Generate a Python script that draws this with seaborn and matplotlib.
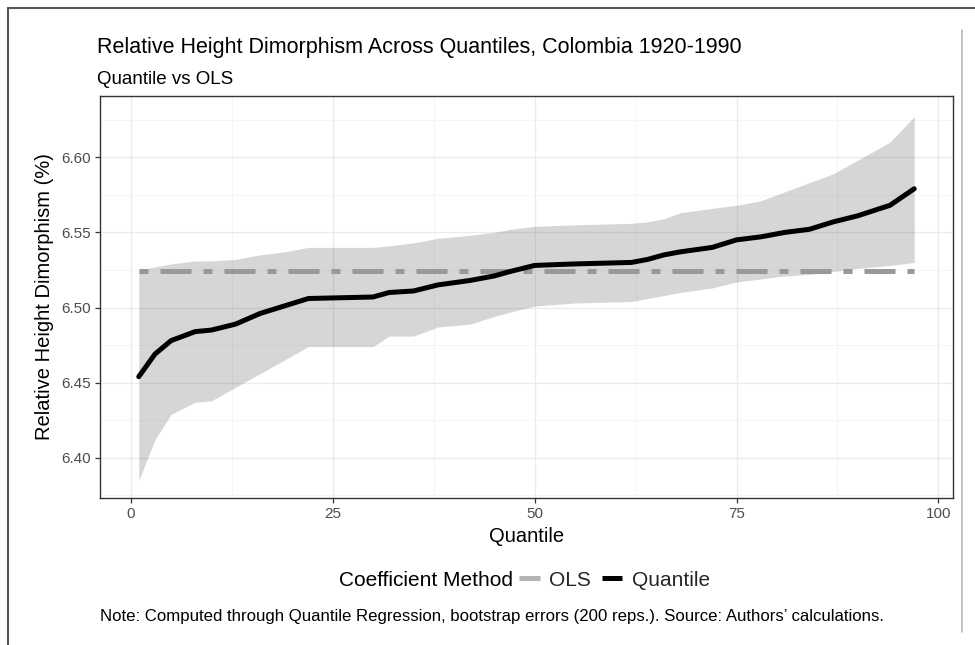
import matplotlib
matplotlib.use("Agg")
import matplotlib.pyplot as plt
from matplotlib.lines import Line2D
from matplotlib.ticker import AutoMinorLocator
import pandas as pd
import seaborn as sns

# Quantile regression estimates with bootstrap bands
quantiles = [1, 3, 5, 8, 10, 13, 16, 19, 22, 30, 32, 35, 38, 42, 45, 47,
             50, 55, 62, 64, 66, 68, 72, 75, 78, 81, 84, 87, 90, 94, 97]
coef_quantile = [6.454, 6.469, 6.478, 6.484, 6.485, 6.489, 6.496, 6.501, 6.506,
                 6.507, 6.510, 6.511, 6.515, 6.518, 6.521, 6.524, 6.528, 6.529,
                 6.530, 6.532, 6.535, 6.537, 6.540, 6.545, 6.547, 6.550, 6.552,
                 6.557, 6.561, 6.568, 6.579]
ci_upper = [6.525, 6.527, 6.529, 6.531, 6.531, 6.532, 6.535, 6.537, 6.540,
            6.540, 6.541, 6.543, 6.546, 6.548, 6.550, 6.552, 6.554, 6.555,
            6.556, 6.557, 6.559, 6.563, 6.566, 6.568, 6.571, 6.577, 6.583,
            6.589, 6.598, 6.610, 6.627]
ci_lower = [6.385, 6.412, 6.429, 6.437, 6.438, 6.447, 6.456, 6.465, 6.474,
            6.474, 6.481, 6.481, 6.487, 6.489, 6.494, 6.497, 6.501, 6.503,
            6.504, 6.506, 6.508, 6.510, 6.513, 6.517, 6.519, 6.521, 6.522,
            6.524, 6.526, 6.528, 6.530]
coef_ols = 6.524

x_ticks = [0, 25, 50, 75, 100]
y_ticks = [6.40, 6.45, 6.50, 6.55, 6.60]

df = pd.DataFrame({"quantile": quantiles, "coef": coef_quantile,
                   "lower": ci_lower, "upper": ci_upper})
df["ols"] = coef_ols

sns.set_theme(style="white")
plt.rcParams["font.family"] = ["Liberation Sans", "DejaVu Sans"]

fig = plt.figure(figsize=(9.75, 6.45), dpi=100)
ax = fig.add_axes([100 / 975, (645 - 498) / 645, 853 / 975, 402 / 645])

# bootstrap band
ax.fill_between(df["quantile"], df["lower"], df["upper"],
                color="#333333", alpha=0.2, linewidth=0, zorder=2)

# OLS coefficient (two-dash)
sns.lineplot(data=df, x="quantile", y="ols", ax=ax, color="#999999",
             linewidth=3.6, zorder=3)
ax.lines[-1].set_dashes((1.8, 2.4, 6.2, 2.4))
ax.lines[-1].set_dash_capstyle("butt")

# quantile coefficients
sns.lineplot(data=df, x="quantile", y="coef", ax=ax, color="black",
             linewidth=3.6, zorder=4)

ax.set_xlim(-3.8, 101.8)
ax.set_ylim(6.3733, 6.6407)
ax.set_xticks(x_ticks)
ax.set_xticklabels([str(t) for t in x_ticks])
ax.set_yticks(y_ticks)
ax.set_yticklabels([f"{t:.2f}" for t in y_ticks])
ax.xaxis.set_minor_locator(AutoMinorLocator(2))
ax.yaxis.set_minor_locator(AutoMinorLocator(2))

ax.grid(which="major", color="#ebebeb", linewidth=1.0, zorder=0)
ax.grid(which="minor", color="#f4f4f4", linewidth=0.6, zorder=0)
ax.set_axisbelow(True)
for s in ax.spines.values():
    s.set_color("#333333")
    s.set_linewidth(1.0)
ax.tick_params(which="major", length=3.5, width=0.9, color="#333333",
               labelcolor="#4d4d4d", labelsize=11, pad=3)
ax.tick_params(which="minor", length=0)
ax.tick_params(axis="x", bottom=True)
ax.tick_params(axis="y", left=True)

ax.set_xlabel("Quantile", fontsize=14.5, color="black")
ax.xaxis.label.set_va("center")
ax.xaxis.set_label_coords(0.5, (498 - 537) / 402)
ax.set_ylabel("Relative Height Dimorphism (%)", fontsize=14.5, color="black")
ax.yaxis.label.set_va("center")
ax.yaxis.set_label_coords((45 - 100) / 853, 0.5)

fig.text(97 / 975, 1 - 47 / 645,
         "Relative Height Dimorphism Across Quantiles, Colombia 1920-1990",
         fontsize=15.5, va="center", ha="left", color="black")
fig.text(97 / 975, 1 - 79 / 645, "Quantile vs OLS",
         fontsize=13.5, va="center", ha="left", color="black")

# legend: title on the left, keys to its right
fig.text(513 / 975, 1 - 580 / 645, "Coefficient Method", fontsize=15,
         va="center", ha="right", color="black")
handles = [Line2D([], [], color="#b3b3b3", linewidth=3.6, solid_capstyle="butt"),
           Line2D([], [], color="black", linewidth=3.6, solid_capstyle="butt")]
fig.legend(handles, ["OLS", "Quantile"], loc="center left",
           bbox_to_anchor=(519 / 975, 1 - 580 / 645), ncol=2, frameon=False,
           fontsize=15, handlelength=1.0, handletextpad=0.45,
           columnspacing=0.5, borderpad=0, borderaxespad=0)

fig.text(100 / 975, 1 - 617 / 645,
         "Note: Computed through Quantile Regression, bootstrap errors (200 reps.). "
         "Source: Authors\u2019 calculations.",
         fontsize=12.05, va="center", ha="left", color="black")

# outer frame
fig.add_artist(Line2D([8 / 975, 1], [1 - 8 / 645, 1 - 8 / 645],
                      transform=fig.transFigure, color="#555555", linewidth=1.5))
fig.add_artist(Line2D([8 / 975, 8 / 975], [0, 1 - 8 / 645],
                      transform=fig.transFigure, color="#555555", linewidth=1.5))
fig.add_artist(Line2D([962 / 975, 962 / 975], [1 - 632 / 645, 1 - 30 / 645],
                      transform=fig.transFigure, color="#bbbbbb", linewidth=1.2))

fig.savefig("out.png", dpi=100, facecolor="white")
